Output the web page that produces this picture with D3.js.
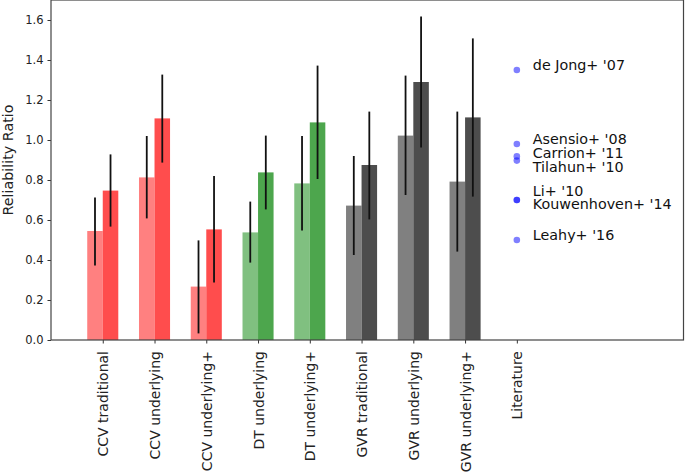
<!DOCTYPE html>
<html>
<head>
<meta charset="utf-8">
<script src="https://cdn.jsdelivr.net/npm/d3@7"></script>
<style>
  html, body { margin: 0; padding: 0; background: #fff; }
  svg { display: block; font-family: "DejaVu Sans", sans-serif; }
</style>
</head>
<body>
<svg id="chart" width="685" height="474"></svg>
<script>
// ---- data ----
const categories = ["CCV traditional", "CCV underlying", "CCV underlying+", "DT underlying",
  "DT underlying+", "GVR traditional", "GVR underlying", "GVR underlying+", "Literature"];
const groupOf = ["CCV", "CCV", "CCV", "DT", "DT", "GVR", "GVR", "GVR"];

const lightValues = [0.545, 0.813, 0.267, 0.538, 0.783, 0.672, 1.022, 0.792];
const lightErrLow = [0.372, 0.608, 0.033, 0.387, 0.547, 0.425, 0.725, 0.442];
const lightErrHigh = [0.713, 1.020, 0.498, 0.692, 1.020, 0.920, 1.322, 1.142];

const darkValues = [0.747, 1.108, 0.553, 0.838, 1.088, 0.875, 1.290, 1.113];
const darkErrLow = [0.567, 0.887, 0.287, 0.653, 0.805, 0.603, 0.963, 0.717];
const darkErrHigh = [0.928, 1.327, 0.820, 1.022, 1.372, 1.142, 1.617, 1.508];

const litNames = ["de Jong+ '07", "Asensio+ '08", "Carrion+ '11", "Tilahun+ '10",
  "Li+ '10", "Kouwenhoven+ '14", "Leahy+ '16"];
const litValues = [1.35, 0.98, 0.918, 0.897, 0.70, 0.70, 0.50];
const litLabelValues = [1.375, 1.008, 0.937, 0.867, 0.747, 0.683, 0.525];

const yTicks = [0.0, 0.2, 0.4, 0.6, 0.8, 1.0, 1.2, 1.4, 1.6];

// ---- styles ----
const lightColor = { CCV: "#ff8080", DT: "#80c080", GVR: "#808080" };
const darkColor = { CCV: "#ff4d4d", DT: "#4da64d", GVR: "#4d4d4d" };
const barW = 0.3;

const svg = d3.select("#chart");
const x = d3.scaleLinear().domain([-1, 11.22]).range([51, 683.5]);
const y = d3.scaleLinear().domain([0, 1.7]).range([340, 0]);

const barIdx = d3.range(lightValues.length);

// light bars
svg.append("g").selectAll("rect").data(barIdx).join("rect")
  .attr("x", i => x(i - barW))
  .attr("width", x(barW) - x(0))
  .attr("y", i => y(lightValues[i]))
  .attr("height", i => y(0) - y(lightValues[i]))
  .attr("fill", i => lightColor[groupOf[i]]);

// dark bars
svg.append("g").selectAll("rect").data(barIdx).join("rect")
  .attr("x", i => x(i))
  .attr("width", x(barW) - x(0))
  .attr("y", i => y(darkValues[i]))
  .attr("height", i => y(0) - y(darkValues[i]))
  .attr("fill", i => darkColor[groupOf[i]]);

// error bars
const eg = svg.append("g").attr("stroke", "#111").attr("stroke-width", 1.8);
eg.selectAll("line.l").data(barIdx).join("line").attr("class", "l")
  .attr("x1", i => x(i - barW / 2)).attr("x2", i => x(i - barW / 2))
  .attr("y1", i => y(lightErrLow[i])).attr("y2", i => y(lightErrHigh[i]));
eg.selectAll("line.d").data(barIdx).join("line").attr("class", "d")
  .attr("x1", i => x(i + barW / 2)).attr("x2", i => x(i + barW / 2))
  .attr("y1", i => y(darkErrLow[i])).attr("y2", i => y(darkErrHigh[i]));

// literature points
const litX = categories.length - 1;
svg.append("g").selectAll("circle").data(litValues).join("circle")
  .attr("cx", x(litX)).attr("cy", d => y(d)).attr("r", 3.3)
  .attr("fill", "blue").attr("fill-opacity", 0.5);
svg.append("g").selectAll("text").data(litNames).join("text")
  .attr("x", x(litX) + 16)
  .attr("y", (d, i) => y(litLabelValues[i]))
  .attr("dy", "0.36em")
  .attr("font-size", 14.3)
  .attr("fill", "#111")
  .text(d => d);

// axes
const yAxis = d3.axisLeft(y).tickValues(yTicks).tickFormat(d3.format(".1f")).tickSize(3.5).tickPadding(4);
const gy = svg.append("g").attr("transform", `translate(${x(-1)},0)`).call(yAxis);
gy.select(".domain").remove();
gy.selectAll("text").attr("font-size", 11.5).attr("fill", "#222").attr("font-family", "DejaVu Sans");
gy.selectAll("line").attr("stroke", "#333");

const xAxis = d3.axisBottom(x).tickValues(d3.range(categories.length)).tickFormat(i => categories[i]).tickSize(3.5).tickPadding(0);
const gx = svg.append("g").attr("transform", `translate(0,${y(0)})`).call(xAxis);
gx.select(".domain").remove();
gx.selectAll("line").attr("stroke", "#333");
gx.selectAll("text")
  .attr("font-size", 14)
  .attr("font-family", "DejaVu Sans")
  .attr("fill", "#222")
  .attr("text-anchor", "end")
  .attr("transform", "rotate(-90)")
  .attr("x", -11)
  .attr("y", 0)
  .attr("dy", "0.36em");

// frame
svg.append("rect")
  .attr("x", x(-1)).attr("y", y(1.7))
  .attr("width", x(11.22) - x(-1)).attr("height", y(0) - y(1.7))
  .attr("fill", "none").attr("stroke", "#444").attr("stroke-width", 1.2);

// y label
svg.append("text")
  .attr("transform", "translate(13,160) rotate(-90)")
  .attr("text-anchor", "middle")
  .attr("font-size", 14.3)
  .attr("fill", "#222")
  .text("Reliability Ratio");
</script>
</body>
</html>
